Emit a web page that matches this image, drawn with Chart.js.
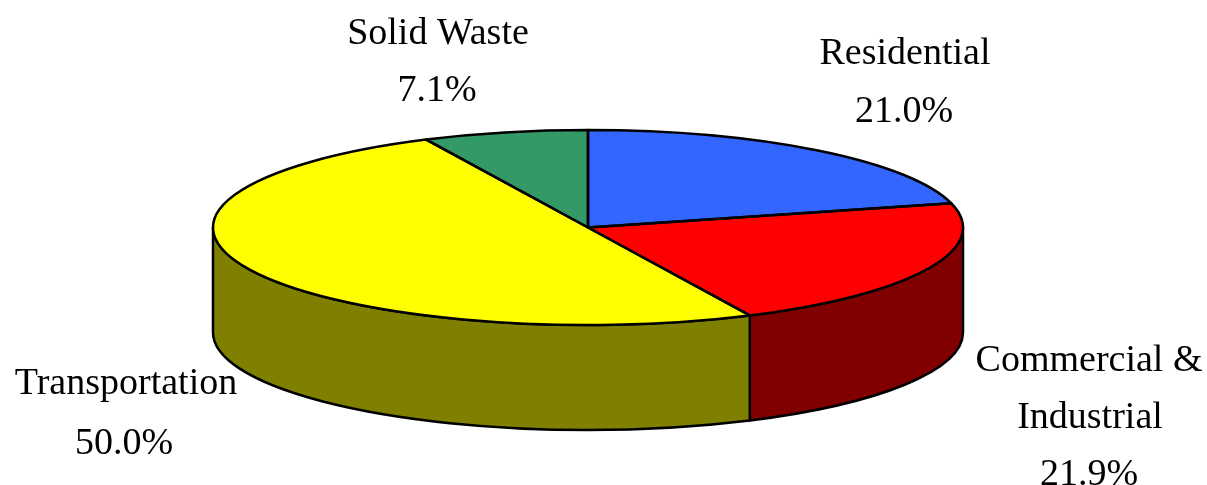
<!DOCTYPE html>
<html><head><meta charset="utf-8">
<style>html,body{margin:0;padding:0;background:#fff}#w{width:1207px;height:485px;position:relative}</style>
<script src="https://cdn.jsdelivr.net/npm/chart.js@4"></script></head>
<body><div id="w"><canvas id="c"></canvas></div>
<script>
const categories = ["Residential","Commercial & Industrial","Transportation","Solid Waste"];
const values = [21.0,21.9,50.0,7.1];
const valueLabels = ["21.0%","21.9%","50.0%","7.1%"];
const topColors = ["#3366ff","#ff0000","#ffff00","#339966"];
const wallColors = ["#1a3380","#800000","#808000","#1a4d33"];
const labelLines = [
  [["Residential",905,54],["21.0%",904,112]],
  [["Commercial &",1089,361],["Industrial",1090,418],["21.9%",1089,475]],
  [["Transportation",126,384],["50.0%",124,444]],
  [["Solid Waste",438,34],["7.1%",437,91]]
];
const CX=588, CY=227.5, RX=375, RY=97.5, DEPTH=105;
const pie3d = {
  id:'pie3d',
  beforeDatasetsDraw(chart){
    const ctx=chart.ctx, arcs=chart.getDatasetMeta(0).data;
    ctx.save();
    ctx.lineWidth=2.5; ctx.strokeStyle='#000'; ctx.lineJoin='round';
    arcs.forEach((a,i)=>{
      const s=Math.max(a.startAngle,0), e=Math.min(a.endAngle,Math.PI);
      if(e<=s) return;
      ctx.beginPath();
      ctx.ellipse(CX,CY,RX,RY,0,s,e);
      ctx.ellipse(CX,CY+DEPTH,RX,RY,0,e,s,true);
      ctx.closePath();
      ctx.fillStyle=wallColors[i]; ctx.fill(); ctx.stroke();
    });
    ctx.restore();
    ctx.save();
    const a0=arcs[0], k=a0.outerRadius;
    ctx.translate(CX,CY); ctx.scale(RX/k,RY/k); ctx.translate(-a0.x,-a0.y);
  },
  afterDatasetsDraw(chart){
    const ctx=chart.ctx, arcs=chart.getDatasetMeta(0).data;
    ctx.restore();
    ctx.save();
    ctx.lineWidth=2.5; ctx.strokeStyle='#000'; ctx.lineJoin='round';
    arcs.forEach(a=>{
      ctx.beginPath();
      ctx.moveTo(CX,CY);
      ctx.ellipse(CX,CY,RX,RY,0,a.startAngle,a.endAngle);
      ctx.closePath();
      ctx.stroke();
    });
    ctx.fillStyle='#000';
    ctx.font='38px "Liberation Serif"';
    ctx.textAlign='center'; ctx.textBaseline='middle';
    labelLines.forEach(g=>g.forEach(([t,x,y])=>ctx.fillText(t,x,y)));
    ctx.restore();
  }
};
new Chart(document.getElementById('c'),{
  type:'pie',
  data:{labels:categories,datasets:[{data:values,backgroundColor:topColors,borderWidth:0}]},
  options:{responsive:true,maintainAspectRatio:false,animation:false,
    layout:{padding:0},
    plugins:{legend:{display:false},tooltip:{enabled:false}}},
  plugins:[pie3d]
});
</script></body></html>
